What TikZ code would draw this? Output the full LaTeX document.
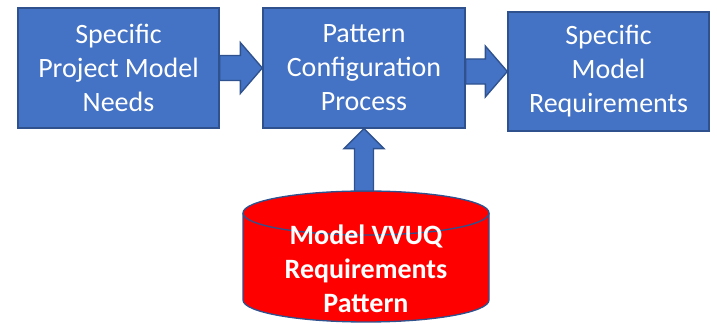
\documentclass[tikz,border=0pt]{standalone}
\usepackage{fontspec}
\setmainfont{Carlito}
\usetikzlibrary{calc}
\definecolor{boxblue}{HTML}{4472C4}
\definecolor{edgeblue}{HTML}{2F528F}
\tikzstyle{stage}=[rectangle, draw=edgeblue, fill=boxblue, line width=1pt,
text=white, align=center, font=\fontsize{21}{25.5}\selectfont]
\tikzstyle{flow}=[draw=edgeblue, fill=boxblue, line width=1pt, line join=miter]
\tikzstyle{vessel}=[draw=edgeblue, fill=red, line width=1pt]

% block arrow, left to right
\newcommand{\flowright}[2]{%
  \draw[flow] let \p1=(#1), \p2=(#2) in
    (\x1,\y2+9.4pt) -- (\x2-16.5pt,\y2+9.4pt) -- (\x2-16.5pt,\y2+19.1pt)
    -- (\x2,\y2) -- (\x2-16.5pt,\y2-19.1pt) -- (\x2-16.5pt,\y2-9.4pt)
    -- (\x1,\y2-9.4pt) -- cycle;}
% block arrow, bottom to top
\newcommand{\flowup}[2]{%
  \draw[flow] let \p1=(#1), \p2=(#2) in
    (\x2-7.1pt,\y1) -- (\x2-7.1pt,\y2-15pt) -- (\x2-15pt,\y2-15pt)
    -- (\x2,\y2) -- (\x2+15pt,\y2-15pt) -- (\x2+7.1pt,\y2-15pt)
    -- (\x2+7.1pt,\y1) -- cycle;}

\begin{document}
\begin{tikzpicture}[x=0.75pt, y=0.75pt]
  \useasboundingbox (0,0) rectangle (717,324);

  % Boxes
  \node (needs) at (118.5,256) [stage, minimum width=150.75pt, minimum height=90pt]
    {Specific\\Project Model\\Needs};
  \node (config) at (364,256) [stage, minimum width=151.5pt, minimum height=90pt]
    {Pattern\\Configuration\\Process};
  \node (reqs) at (608.5,252.5) [stage, minimum width=150.75pt, minimum height=89.25pt]
    {Specific\\Model\\Requirements};

  % Pattern store
  \draw[vessel] (243,111) -- (243,24)
    arc[start angle=180, end angle=360, x radius=123, y radius=22]
    -- (489,111)
    arc[start angle=0, end angle=180, x radius=123, y radius=22] -- cycle;
  \draw[vessel, fill=none] (243,111)
    arc[start angle=180, end angle=360, x radius=123, y radius=22];
  \coordinate (storetop) at (366,133);
  \node (pattern) at (366,55) [text=white, align=center,
    font=\bfseries\fontsize{21}{25.5}\selectfont]
    {Model VVUQ\\Requirements\\Pattern};

  % Arrows
  \flowright{needs.east}{config.west}
  \flowright{config.east}{reqs.west}
  \flowup{storetop}{config.south}
\end{tikzpicture}
\end{document}
